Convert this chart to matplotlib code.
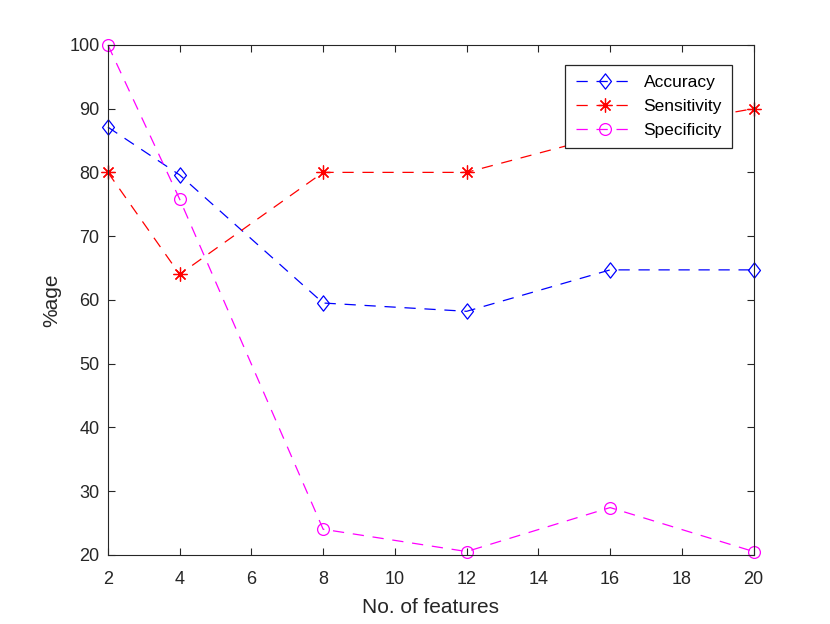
import matplotlib.pyplot as plt
from matplotlib.path import Path

# Datos
n_features = [2, 4, 8, 12, 16, 20]
accuracy = [87.1, 79.6, 59.5, 58.2, 64.7, 64.7]
sensitivity = [80, 64, 80, 80, 86, 90]
specificity = [100, 75.8, 24.0, 20.5, 27.4, 20.5]

plt.rcParams['font.family'] = ['Liberation Sans', 'DejaVu Sans']

# Rombo estilo MATLAB (mas ancho que el 'd' de matplotlib)
rombo = Path([(0, 1), (0.78, 0), (0, -1), (-0.78, 0), (0, 1)],
             [Path.MOVETO, Path.LINETO, Path.LINETO, Path.LINETO, Path.CLOSEPOLY])
asterisco = (8, 2, 0)

fig = plt.figure(figsize=(8.3, 6.24), dpi=100)
ax = fig.add_axes([0.130, 0.111, 0.778, 0.817])

estilo = dict(linestyle='--', dashes=(9, 7), linewidth=0.9,
              markerfacecolor='none', markeredgewidth=0.9, clip_on=False)
ax.plot(n_features, accuracy, color='blue', marker=rombo, markersize=11,
        label='Accuracy', **estilo)
ax.plot(n_features, sensitivity, color='red', marker=asterisco, markersize=10,
        label='Sensitivity', **estilo)
ax.plot(n_features, specificity, color='magenta', marker='o', markersize=8.5,
        label='Specificity', **estilo)

ax.set_xlim(2, 20)
ax.set_ylim(20, 100)
ax.set_xticks(range(2, 21, 2))
ax.set_yticks(range(20, 101, 10))
ax.tick_params(direction='in', top=True, right=True, labelsize=13,
               colors='#262626', length=5, width=0.8)
ax.tick_params(axis='x', pad=12)
ax.tick_params(axis='y', pad=6)
for s in ax.spines.values():
    s.set_color('#262626')
    s.set_linewidth(0.8)

ax.set_xlabel('No. of features', fontsize=15, color='#262626', labelpad=7)
ax.set_ylabel('%age', fontsize=15, color='#262626', labelpad=6)

leg = ax.legend(loc='upper right', bbox_to_anchor=(0.967, 0.961), fontsize=12.5,
                fancybox=False, framealpha=1, edgecolor='#262626',
                handlelength=3.4, handletextpad=0.5, borderpad=0.6,
                labelspacing=0.5, borderaxespad=0)
leg.get_frame().set_linewidth(0.9)
leg.set_zorder(5)

fig.savefig('out.png', dpi=100)
